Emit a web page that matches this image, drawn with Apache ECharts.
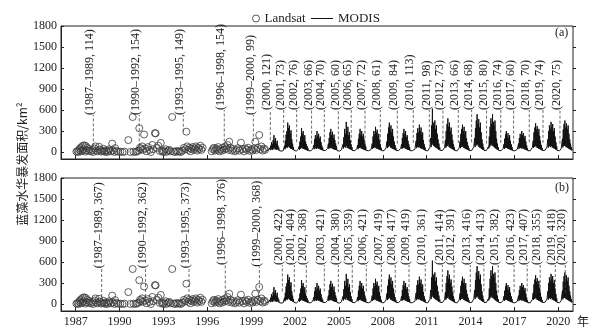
<!DOCTYPE html>
<html>
<head>
<meta charset="utf-8">
<script src="https://cdn.jsdelivr.net/npm/echarts@6/dist/echarts.min.js"></script>
<style>
  html, body { margin: 0; padding: 0; background: #fff; }
  #chart { width: 607px; height: 333px; }
</style>
</head>
<body>
<div id="chart"></div>
<script>
// Axis ticks
const yearTicks = [1987, 1990, 1993, 1996, 1999, 2002, 2005, 2008, 2011, 2014, 2017, 2020];
const areaTicks = [0, 300, 600, 900, 1200, 1500, 1800];

// Landsat observations (decimal year, bloom area km²)
const landsatYear = [
  1987.05, 1987.12, 1987.2, 1987.25, 1987.3, 1987.35, 1987.4, 1987.45, 1987.5, 1987.55, 1987.6, 1987.65, 1987.7, 1987.75, 1987.8, 1987.9, 1987.95,
  1988.05, 1988.15, 1988.2, 1988.3, 1988.35, 1988.4, 1988.5, 1988.6, 1988.65, 1988.75, 1988.8, 1988.9, 1988.95,
  1989.0, 1989.1, 1989.15, 1989.25, 1989.3, 1989.4, 1989.5, 1989.55, 1989.65, 1989.7, 1989.8, 1989.9,
  1990.05, 1990.2, 1990.35, 1990.6, 1990.75, 1990.9, 1990.95,
  1991.1, 1991.2, 1991.3, 1991.35, 1991.4, 1991.45, 1991.55, 1991.6, 1991.68, 1991.75, 1991.85, 1991.95,
  1992.05, 1992.15, 1992.25, 1992.3, 1992.42, 1992.47, 1992.55, 1992.65, 1992.75, 1992.82, 1992.9, 1992.97,
  1993.05, 1993.15, 1993.2, 1993.3, 1993.4, 1993.5, 1993.6, 1993.7, 1993.8, 1993.9,
  1994.0, 1994.1, 1994.2, 1994.3, 1994.4, 1994.5, 1994.57, 1994.63, 1994.7, 1994.78, 1994.85, 1994.92,
  1995.0, 1995.08, 1995.15, 1995.22, 1995.3, 1995.38, 1995.45, 1995.52, 1995.6, 1995.68,
  1996.3, 1996.38, 1996.45, 1996.52, 1996.6, 1996.68, 1996.75, 1996.83, 1996.9,
  1997.0, 1997.08, 1997.15, 1997.22, 1997.3, 1997.38, 1997.45, 1997.5, 1997.58, 1997.68, 1997.78, 1997.9,
  1998.0, 1998.1, 1998.2, 1998.3, 1998.4, 1998.5, 1998.6, 1998.7, 1998.8, 1998.9,
  1999.0, 1999.1, 1999.2, 1999.28, 1999.35, 1999.45, 1999.55, 1999.62, 1999.7, 1999.78, 1999.88, 1999.95
];
const landsatArea = [
  5, 15, 0, 30, 55, 10, 70, 20, 90, 40, 95, 5, 85, 25, 60, 15, 40,
  10, 30, 0, 50, 80, 20, 10, 75, 35, 5, 20, 45, 10,
  5, 25, 0, 15, 40, 10, 120, 20, 0, 55, 15, 5,
  5, 0, 5, 170, 0, 500, 5,
  0, 10, 20, 340, 60, 40, 80, 30, 250, 50, 10, 70,
  30, 0, 100, 40, 270, 265, 60, 90, 15, 130, 20, 0,
  10, 40, 0, 20, 30, 10, 500, 5, 0, 15,
  5, 10, 0, 20, 60, 40, 290, 80, 30, 60, 10, 45,
  70, 30, 50, 80, 20, 60, 40, 90, 30, 60,
  10, 40, 60, 20, 50, 30, 70, 10, 40,
  20, 60, 35, 80, 50, 100, 30, 147, 60, 20, 45, 10,
  30, 55, 20, 133, 40, 10, 50, 30, 60, 15,
  35, 20, 50, 147, 30, 60, 243, 40, 80, 20, 50, 30
];

// MODIS series: 36 samples per year (about every 10 days), starting 2000-01-01
const modisStartYear = 2000;
const modisPerYear = 36;
const modisArea = [
  15,10,20,12,18,14,25,16,30, 20,60,25,90,35,140,40,110,30,170,45,240,60,150,35,200,50,120,30,160,40,90,25,60,20,35,15,
  14,22,12,18,25,15,30,20,45, 30,90,40,160,50,250,70,300,60,420,90,340,70,380,60,260,50,310,45,180,40,120,30,70,25,40,18,
  16,12,20,14,22,18,28,20,40, 25,80,35,150,45,220,60,340,55,260,50,300,45,210,40,240,35,150,30,110,25,80,20,50,18,30,14,
  15,20,12,18,22,16,26,30,45, 28,100,40,180,50,240,55,200,45,300,60,230,50,260,45,190,40,220,35,140,30,90,25,60,20,35,16,
  14,18,16,22,20,28,24,35,50, 30,120,45,200,60,280,55,330,70,240,50,290,45,200,40,250,35,170,30,120,28,80,22,50,18,30,15,
  16,12,22,15,25,18,30,24,50, 35,110,50,210,70,330,80,260,60,430,90,300,60,360,55,240,45,280,40,170,35,110,28,70,22,40,16,
  15,22,14,20,18,26,22,35,45, 30,100,40,190,55,260,60,330,65,240,50,300,45,220,40,260,35,180,30,120,25,80,22,50,18,30,14,
  14,18,12,22,20,25,28,35,55, 35,120,45,220,60,300,70,250,55,360,75,280,50,320,45,230,40,260,35,170,30,110,25,60,20,35,15,
  16,12,20,18,22,30,26,40,60, 40,150,55,260,70,350,80,420,90,320,65,380,60,280,50,330,45,220,40,150,32,100,26,60,20,35,15,
  15,20,14,22,18,28,24,36,50, 32,110,45,200,55,270,60,330,65,250,50,300,45,210,40,240,35,160,30,110,25,70,20,45,16,28,14,
  14,18,16,24,20,30,26,40,60, 40,160,55,270,70,340,75,280,60,390,80,300,55,350,50,250,45,280,40,170,32,110,26,65,20,35,15,
  15,12,20,18,24,30,28,45,70, 45,200,70,380,100,620,120,420,90,380,80,450,70,330,60,380,55,260,45,180,36,120,28,70,22,40,16,
  14,18,16,22,20,30,26,42,65, 42,170,60,300,80,400,90,480,100,360,70,420,65,300,55,350,50,250,42,170,35,110,26,65,20,35,15,
  16,12,20,18,22,28,25,40,60, 38,150,55,260,70,330,75,390,80,300,60,360,55,260,48,300,42,200,36,140,30,90,24,55,18,32,14,
  15,20,14,24,22,32,28,48,75, 48,200,70,340,90,450,100,540,110,400,80,470,75,350,60,420,55,280,45,180,36,120,28,70,22,40,15,
  14,18,16,22,24,34,30,50,80, 50,220,75,360,95,480,110,400,85,540,100,430,75,380,65,450,55,300,45,190,36,120,28,70,22,40,16,
  15,12,20,18,22,26,24,36,50, 32,110,45,190,55,250,60,300,60,220,50,270,45,200,40,240,35,160,30,110,25,70,20,45,16,28,14,
  14,18,15,22,20,28,25,38,55, 34,120,45,200,58,260,60,220,50,300,62,240,48,270,44,200,38,230,34,150,28,95,22,55,18,32,15,
  15,12,20,18,24,30,28,44,65, 42,160,58,280,75,350,80,410,85,320,65,370,60,280,50,330,46,230,40,160,32,100,25,60,20,35,16,
  16,20,14,24,22,32,28,46,70, 45,180,62,300,80,380,85,330,70,430,88,360,65,400,60,300,52,340,46,220,38,140,30,80,22,45,15,
  15,12,20,18,24,32,30,48,72, 46,190,65,320,85,400,90,450,92,350,70,410,66,330,58,380,52,260,44,180,36,120,28,70,22,40,14
];

// Period labels shared by both panels
const annoPeriod = ['1987–1989', '1990–1992', '1993–1995', '1996–1998', '1999–2000',
  '2000', '2001', '2002', '2003', '2004', '2005', '2006', '2007', '2008', '2009', '2010',
  '2011', '2012', '2013', '2014', '2015', '2016', '2017', '2018', '2019', '2020'];

// Panel (a) annotations
const annoAValue = [114, 154, 149, 154, 99, 121, 73, 76, 66, 70, 60, 65, 72, 61, 84, 113, 98, 73, 66, 68, 80, 74, 60, 70, 74, 75];
const annoADate = [1988.21, 1991.35, 1994.36, 1997.16, 1999.15, 2000.31, 2001.22, 2002.11, 2003.13, 2004.0, 2004.96,
  2005.84, 2006.78, 2007.83, 2008.99, 2010.08, 2011.18, 2012.11, 2013.16, 2014.07, 2015.09, 2016.06, 2016.94, 2018.01, 2018.95, 2020.11];
const annoABase = [80, 10, 290, 150, 150, 170, 130, 140, 120, 140, 110, 130, 120, 140, 120, 130, 140, 120, 130, 140, 120, 130, 120, 140, 130, 120];
const annoATop = [530, 530, 530, 600, 530, 600, 600, 600, 600, 600, 600, 600, 600, 600, 600, 600, 600, 600, 600, 600, 600, 600, 600, 600, 600, 600];

// Panel (b) annotations
const annoBValue = [367, 362, 373, 376, 368, 422, 404, 368, 421, 380, 359, 421, 419, 417, 419, 361, 414, 391, 416, 413, 382, 423, 407, 355, 418, 320];
const annoBDate = [1988.78, 1991.78, 1994.75, 1997.23, 1999.56, 2001.13, 2001.95, 2002.77, 2004.0, 2004.96, 2005.91,
  2006.87, 2007.9, 2008.85, 2009.79, 2010.9, 2012.07, 2012.87, 2013.98, 2014.91, 2015.89, 2016.97, 2017.87, 2018.76, 2019.79, 2020.47];
const annoBBase = [100, 30, 100, 150, 85, 180, 170, 160, 180, 170, 160, 180, 170, 160, 170, 180, 170, 160, 170, 180, 160, 170, 180, 160, 170, 160];
const annoBTop = [510, 510, 510, 557, 533, 557, 557, 557, 557, 557, 557, 557, 557, 557, 557, 557, 557, 557, 557, 557, 557, 557, 557, 557, 557, 557];

const SERIF = '"Liberation Serif", "Times New Roman", serif';
const INK = '#222';
const plain = v => String(v);

const landsatData = landsatYear.map((y, i) => [y, landsatArea[i]]);
const modisData = modisArea.map((v, i) => [modisStartYear + i / modisPerYear, v]);

function annoSeries(gridIdx, dates, bases, tops, values) {
  const texts = annoPeriod.map((p, i) => '(' + p + ', ' + values[i] + ')');
  return {
    type: 'custom',
    xAxisIndex: gridIdx,
    yAxisIndex: gridIdx * 2,
    silent: true,
    z: 5,
    encode: { x: 0, y: [1, 2] },
    data: dates.map((d, i) => [d, bases[i], tops[i]]),
    renderItem: function (params, api) {
      const x = api.value(0);
      const p0 = api.coord([x, api.value(1)]);
      const p1 = api.coord([x, api.value(2)]);
      return {
        type: 'group',
        children: [
          {
            type: 'line',
            shape: { x1: p0[0], y1: p0[1], x2: p1[0], y2: p1[1] },
            style: { stroke: '#444', lineWidth: 0.8, lineDash: [3, 2] }
          },
          {
            type: 'text',
            x: p1[0] - 3,
            y: p1[1],
            rotation: Math.PI / 2,
            style: {
              text: texts[params.dataIndex],
              font: '12px ' + SERIF,
              fill: INK,
              align: 'left',
              verticalAlign: 'middle'
            }
          }
        ]
      };
    }
  };
}

function makeXAxis(gridIdx, showLabels) {
  return {
    type: 'value',
    gridIndex: gridIdx,
    min: 1986,
    max: 2021,
    splitLine: { show: false },
    axisLine: { show: true, onZero: false, lineStyle: { color: INK, width: 1 } },
    axisTick: { show: true, inside: true, length: 4, customValues: yearTicks, lineStyle: { color: INK } },
    axisLabel: {
      show: showLabels, customValues: yearTicks, margin: 5, formatter: plain,
      fontFamily: SERIF, fontSize: 12, color: INK
    },
    name: showLabels ? '年' : '',
    nameLocation: 'end',
    nameGap: 4,
    nameTextStyle: {
      fontFamily: '"Noto Sans CJK SC", sans-serif', fontSize: 12, color: INK,
      verticalAlign: 'top', padding: [4, 0, 0, 0]
    }
  };
}

function makeYAxes(gridIdx) {
  return [
    {
      type: 'value',
      gridIndex: gridIdx,
      min: -100,
      max: 1800,
      splitLine: { show: false },
      axisLine: { show: true, lineStyle: { color: INK, width: 1 } },
      axisTick: { show: true, inside: true, length: 3, customValues: areaTicks, lineStyle: { color: INK } },
      axisLabel: { customValues: areaTicks, margin: 4, formatter: plain, fontFamily: SERIF, fontSize: 12, color: INK }
    },
    {
      type: 'value',
      gridIndex: gridIdx,
      min: -100,
      max: 1800,
      splitLine: { show: false },
      axisLine: { show: false },
      axisTick: { show: true, inside: false, length: 3, customValues: areaTicks, lineStyle: { color: INK } },
      axisLabel: { show: false }
    }
  ];
}

function dataSeries(gridIdx) {
  return [
    {
      name: 'Landsat',
      type: 'scatter',
      xAxisIndex: gridIdx,
      yAxisIndex: gridIdx * 2,
      symbol: 'circle',
      symbolSize: 7,
      itemStyle: { color: 'rgba(0,0,0,0)', borderColor: '#3a3a3a', borderWidth: 1 },
      data: landsatData,
      z: 3
    },
    {
      name: 'MODIS',
      type: 'line',
      xAxisIndex: gridIdx,
      yAxisIndex: gridIdx * 2,
      symbol: 'none',
      showSymbol: false,
      itemStyle: { color: '#111' },
      lineStyle: { color: '#111', width: 1 },
      data: modisData,
      z: 2
    }
  ];
}

const chart = echarts.init(document.getElementById('chart'), null, { renderer: 'canvas' });
chart.setOption({
  animation: false,
  backgroundColor: '#fff',
  textStyle: { fontFamily: SERIF },
  legend: [
    {
      data: [{ name: 'Landsat', icon: 'circle', itemStyle: { color: 'rgba(0,0,0,0)', borderColor: '#333', borderWidth: 1 } }],
      left: 252, top: 12, padding: 0, itemWidth: 7, itemHeight: 7, itemGap: 4,
      textStyle: { fontFamily: SERIF, fontSize: 13, color: INK }
    },
    {
      data: [{ name: 'MODIS', icon: 'rect', itemStyle: { color: '#111', borderWidth: 0 } }],
      left: 311, top: 12, padding: 0, itemWidth: 22, itemHeight: 1, itemGap: 4,
      textStyle: { fontFamily: SERIF, fontSize: 13, color: INK }
    }
  ],
  grid: [
    { left: 61, top: 26, width: 512, height: 133, show: true, borderColor: INK, borderWidth: 1, backgroundColor: 'transparent' },
    { left: 61, top: 178, width: 512, height: 133, show: true, borderColor: INK, borderWidth: 1, backgroundColor: 'transparent' }
  ],
  xAxis: [makeXAxis(0, false), makeXAxis(1, true)],
  yAxis: [].concat(makeYAxes(0), makeYAxes(1)),
  series: [].concat(
    dataSeries(0),
    dataSeries(1),
    [annoSeries(0, annoADate, annoABase, annoATop, annoAValue),
     annoSeries(1, annoBDate, annoBBase, annoBTop, annoBValue)]
  ),
  graphic: [
    { type: 'text', x: 555, y: 27, style: { text: '(a)', font: '12px ' + SERIF, fill: INK } },
    { type: 'text', x: 555, y: 182, style: { text: '(b)', font: '12px ' + SERIF, fill: INK } },
    {
      type: 'text', x: 22, y: 164, rotation: Math.PI / 2,
      style: {
        text: '蓝藻水华暴发面积/km²', font: '12px "Noto Sans CJK SC", sans-serif', fill: INK,
        align: 'center', verticalAlign: 'middle'
      }
    }
  ]
});
</script>
</body>
</html>
